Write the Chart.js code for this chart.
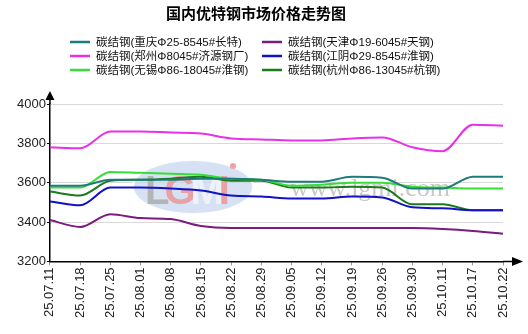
<!DOCTYPE html>
<html>
<head>
<meta charset="utf-8">
<script src="https://cdn.jsdelivr.net/npm/chart.js@4.4.1/dist/chart.umd.min.js"></script>
<style>
  html, body { margin: 0; padding: 0; background: #fff; }
  #wrap { width: 528px; height: 334px; }
</style>
</head>
<body>
<div id="wrap"><canvas id="myChart" width="528" height="334"></canvas></div>
<script>
// weekly price dates
var dates = ["25.07.11", "25.07.18", "25.07.25", "25.08.01", "25.08.08", "25.08.15", "25.08.22", "25.08.29",
             "25.09.05", "25.09.12", "25.09.19", "25.09.26", "25.09.30", "25.10.11", "25.10.17", "25.10.22"];

var chongqing = [3585, 3585, 3615, 3615, 3615, 3620, 3620, 3615, 3605, 3605, 3630, 3625, 3570, 3570, 3630, 3630];
var tianjin   = [3410, 3375, 3440, 3420, 3415, 3380, 3370, 3370, 3370, 3370, 3370, 3370, 3370, 3365, 3355, 3340];
var zhengzhou = [3780, 3775, 3860, 3860, 3855, 3850, 3825, 3820, 3815, 3815, 3825, 3830, 3780, 3760, 3895, 3890];
var jiangyin  = [3505, 3485, 3575, 3575, 3570, 3560, 3535, 3530, 3520, 3520, 3530, 3525, 3475, 3470, 3460, 3460];
var wuxi      = [3575, 3575, 3655, 3650, 3645, 3640, 3620, 3615, 3585, 3590, 3600, 3600, 3580, 3575, 3570, 3570];
var hangzhou  = [3555, 3535, 3610, 3615, 3620, 3630, 3610, 3610, 3575, 3575, 3580, 3575, 3490, 3490, 3460, 3460];

var yTicks = [3200, 3400, 3600, 3800, 4000];

var FONT = '"Liberation Sans", Arial, "Noto Sans CJK SC", sans-serif';

function series(label, data, color) {
  return {
    label: label,
    data: data,
    borderColor: color,
    backgroundColor: color,
    borderWidth: 2,
    pointRadius: 0,
    fill: false,
    cubicInterpolationMode: "monotone"
  };
}

// title, two-column legend, axis arrows and the site watermark
var decor = {
  id: "decor",
  beforeDatasetsDraw: function (chart) {
    var ctx = chart.ctx;
    ctx.save();
    ctx.beginPath();
    ctx.ellipse(193, 187, 60, 27, 0, 0, Math.PI * 2);
    ctx.fillStyle = "rgba(196, 214, 238, 0.7)";
    ctx.fill();
    ctx.lineWidth = 2;
    ctx.strokeStyle = "rgba(255,255,255,0.9)";
    ctx.stroke();
    ctx.font = "bold 40px " + FONT;
    ctx.textBaseline = "alphabetic";
    var letters = [["L", "#b4b4b4"], ["G", "#e8a2a6"], ["M", "#eef2f8"], ["I", "#e8a2a6"]];
    var x = 145;
    letters.forEach(function (l) {
      ctx.fillStyle = l[1];
      ctx.fillText(l[0], x, 204);
      x += ctx.measureText(l[0]).width - 5;
    });
    ctx.beginPath();
    ctx.arc(233, 166, 3, 0, Math.PI * 2);
    ctx.fillStyle = "#f0a0a6";
    ctx.fill();
    ctx.font = '26px "Liberation Serif", "Times New Roman", serif';
    ctx.fillStyle = "#c9c9c9";
    ctx.fillText("www.lgmi.com", 290, 196);
    ctx.restore();
  },
  afterDraw: function (chart) {
    var ctx = chart.ctx;
    var area = chart.chartArea;
    ctx.save();

    ctx.fillStyle = "#000";
    ctx.font = 'bold 15px "Noto Sans CJK SC", sans-serif';
    ctx.textAlign = "center";
    ctx.textBaseline = "middle";
    ctx.fillText("国内优特钢市场价格走势图", 256, 13);

    var cols = [70, 262];
    var rows = [42, 56, 70];
    ctx.font = "11.5px " + FONT;
    ctx.textAlign = "left";
    chart.data.datasets.forEach(function (ds, i) {
      var cx = cols[i % 2];
      var cy = rows[Math.floor(i / 2)];
      ctx.strokeStyle = ds.borderColor;
      ctx.lineWidth = 2.5;
      ctx.beginPath();
      ctx.moveTo(cx, cy);
      ctx.lineTo(cx + 20, cy);
      ctx.stroke();
      ctx.fillStyle = "#111";
      ctx.fillText(ds.label, cx + 26, cy + 1);
    });

    // axis extensions with arrow heads
    ctx.strokeStyle = "#000";
    ctx.fillStyle = "#000";
    ctx.lineWidth = 1.5;
    ctx.beginPath();
    ctx.moveTo(area.left, area.top);
    ctx.lineTo(area.left, 99);
    ctx.moveTo(area.right, area.bottom);
    ctx.lineTo(513, area.bottom);
    ctx.stroke();
    ctx.beginPath();
    ctx.moveTo(area.left, 91);
    ctx.lineTo(area.left - 4.5, 100);
    ctx.lineTo(area.left + 4.5, 100);
    ctx.closePath();
    ctx.fill();
    ctx.beginPath();
    ctx.moveTo(523, area.bottom);
    ctx.lineTo(512, area.bottom - 4.5);
    ctx.lineTo(512, area.bottom + 4.5);
    ctx.closePath();
    ctx.fill();
    ctx.restore();
  }
};

var ctx = document.getElementById("myChart").getContext("2d");
var chart = new Chart(ctx, {
  type: "line",
  data: {
    labels: dates,
    datasets: [
      series("碳结钢(重庆Φ25-8545#长特)", chongqing, "#1e7b7b"),
      series("碳结钢(天津Φ19-6045#天钢)", tianjin, "#7d1a7d"),
      series("碳结钢(郑州Φ8045#济源钢厂)", zhengzhou, "#e830e8"),
      series("碳结钢(江阴Φ29-8545#淮钢)", jiangyin, "#1212c4"),
      series("碳结钢(无锡Φ86-18045#淮钢)", wuxi, "#36de36"),
      series("碳结钢(杭州Φ86-13045#杭钢)", hangzhou, "#1b7a1b")
    ]
  },
  options: {
    responsive: false,
    animation: false,
    layout: { padding: { top: 104, left: 16, right: 25, bottom: 14 } },
    plugins: {
      legend: { display: false },
      title: { display: false },
      tooltip: { enabled: false }
    },
    scales: {
      x: {
        offset: false,
        grid: { drawOnChartArea: false, drawTicks: true, tickLength: 4, tickColor: "#999" },
        border: { color: "#000", width: 1.5 },
        ticks: {
          autoSkip: false,
          maxRotation: 90,
          minRotation: 90,
          padding: 2,
          color: "#222",
          font: { family: FONT, size: 13 }
        }
      },
      y: {
        min: yTicks[0],
        max: yTicks[yTicks.length - 1],
        afterBuildTicks: function (axis) {
          axis.ticks = yTicks.map(function (v) { return { value: v }; });
        },
        grid: {
          color: function (c) { return c.tick && c.tick.value === yTicks[0] ? "rgba(0,0,0,0)" : "#d9d9d9"; },
          tickColor: "#000",
          tickLength: 3
        },
        border: { color: "#000", width: 1.5 },
        ticks: {
          padding: 1,
          color: "#222",
          font: { family: FONT, size: 13 },
          callback: function (v) { return String(v); }
        }
      }
    }
  },
  plugins: [decor]
});
</script>
</body>
</html>
